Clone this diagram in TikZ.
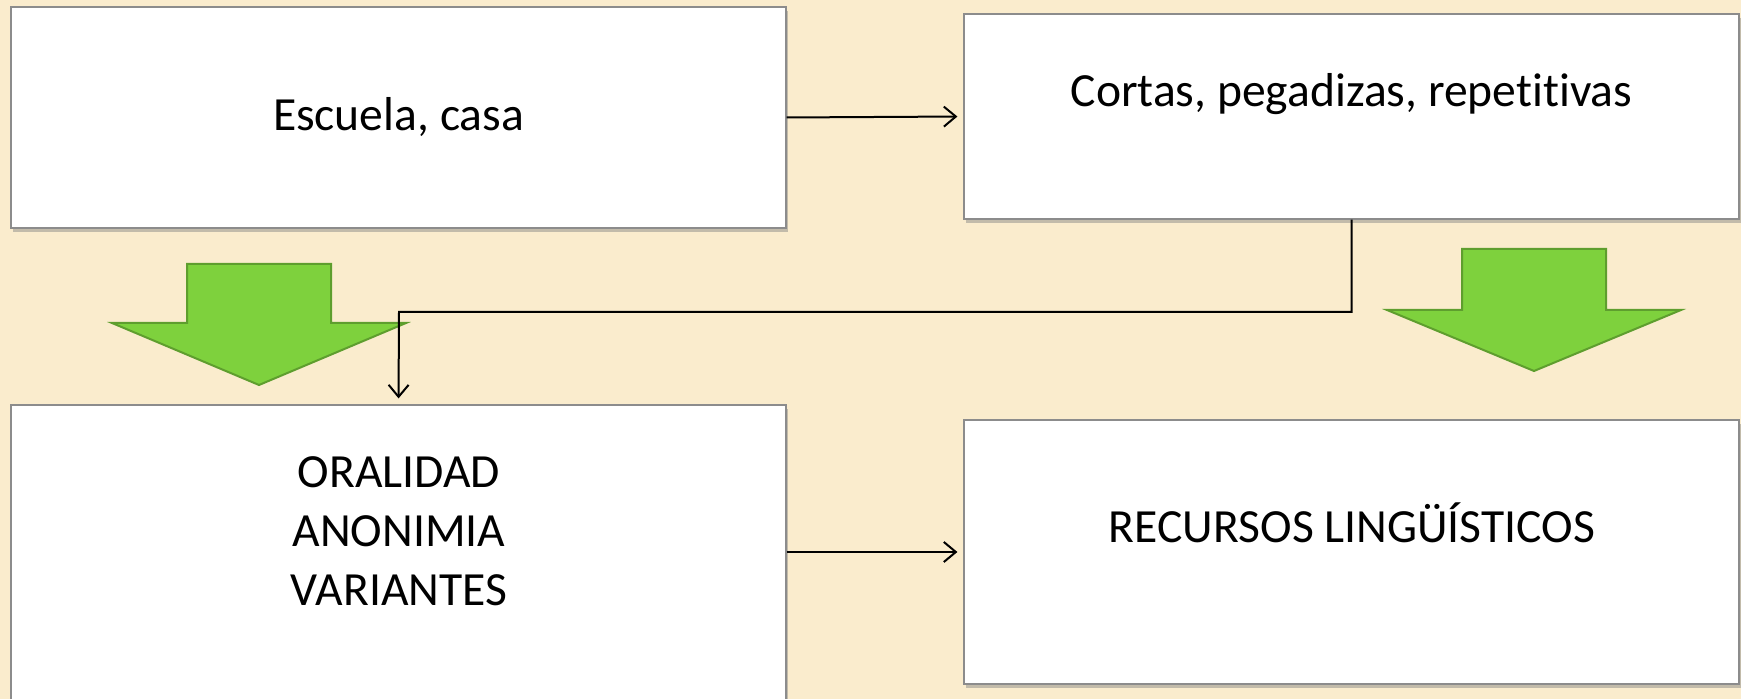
\documentclass[tikz,border=0pt]{standalone}
\usepackage{fontspec}
\setmainfont{Carlito}[Ligatures=NoCommon]
\usetikzlibrary{arrows.meta,shadows}

\definecolor{papel}{HTML}{FAECCD}
\definecolor{verde}{HTML}{7ED13D}
\definecolor{verdeborde}{HTML}{5E9E2E}
\definecolor{bordecaja}{HTML}{8C8C8C}

\tikzset{
	caja/.style={draw=bordecaja, line width=0.6pt, fill=white, rectangle, inner sep=0pt,
		minimum width=387.5pt, drop shadow={shadow xshift=0.8pt, shadow yshift=-2pt, opacity=0.45}},
	texto/.style={font=\fontsize{23.8}{29.5}\selectfont, inner sep=0pt},
	conector/.style={line width=1pt, -{Straight Barb[length=6pt,width=10pt]}, shorten >=3pt},
}

\begin{document}
\begin{tikzpicture}[x=0.5pt,y=-0.5pt]
	\clip (0,0) rectangle (1741,699);
	\fill[papel] (0,0) rectangle (1741,699);
	% cajas
	\node[caja, minimum height=110.5pt] (escuela) at (398.5,117.5) {};
	\node[caja, minimum height=102.5pt] (cortas) at (1351.5,116.5) {};
	\node[caja, minimum height=170pt] (oralidad) at (398.5,575) {};
	\node[caja, minimum height=132pt] (recursos) at (1351.5,552) {};
	% textos
	\node[texto, anchor=base] (t1) at (398.5,131) {Escuela, casa};
	\node[texto, anchor=base] (t2) at (1351.5,107) {Cortas, pegadizas, repetitivas};
	\node[texto, align=center] (t3) at (399,531) {ORALIDAD\\ANONIMIA\\VARIANTES};
	\node[texto, anchor=base] (t4) at (1352,543) {RECURSOS LINGÜÍSTICOS};
	% flechas verdes
	\foreach \cx/\arriba/\ala/\punta in {259/264/323/385, 1534/249/310/371}
		\draw[verdeborde, fill=verde, line width=1pt, line join=miter]
			(\cx-72,\arriba) -- (\cx+72,\arriba) -- (\cx+72,\ala) -- (\cx+147,\ala)
			-- (\cx,\punta) -- (\cx-147,\ala) -- (\cx-72,\ala) -- cycle;
	% conectores
	\coordinate (codo) at (399,312);
	\draw[conector] (escuela.east) -- (cortas.west);
	\draw[conector] (oralidad.east |- recursos.west) -- (recursos.west);
	\draw[conector] (cortas.south) |- (codo) -- (oralidad.north);
\end{tikzpicture}
\end{document}
